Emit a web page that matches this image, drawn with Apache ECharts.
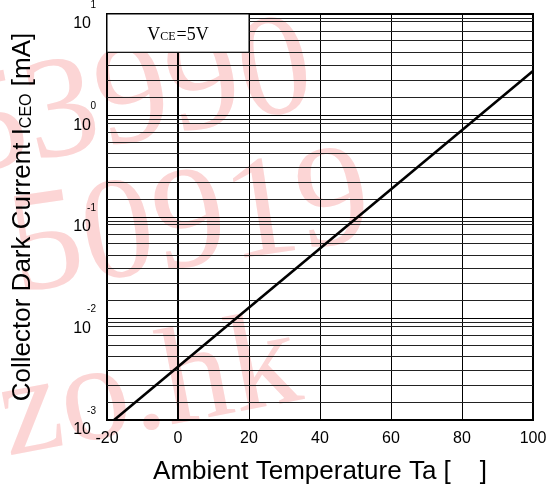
<!DOCTYPE html>
<html>
<head>
    <meta charset="utf-8">
    <title>Collector Dark Current vs Ambient Temperature</title>
    <style>
        html, body { margin: 0; padding: 0; background: #fff; }
        #chart { width: 554px; height: 490px; }
    </style>
</head>
<body>
<div id="chart"></div>
<script src="https://cdn.jsdelivr.net/npm/echarts@6/dist/echarts.min.js"></script>
<script>
    // data
    var tempC = [-18, 100];
    var iceoMA = [0.001, 2.74];
    var xTicks = [-20, 0, 20, 40, 60, 80, 100];
    var decades = [0.001, 0.01, 0.1, 1];
    // minor grid lines of the printed sheet, per decade (not true log spacing)
    var gridMantissas = [1.5, 2.2, 3.1, 4.2, 5.5, 6.8, 8.4, 9.1];
    var condBox = {xFrom: -20, xTo: 20, yFrom: 4.2, yTo: 10};

    var minorLines = [];
    decades.forEach(function (d) {
        gridMantissas.forEach(function (m) {
            minorLines.push({yAxis: d * m});
        });
    });

    var lineData = tempC.map(function (t, i) { return [t, iceoMA[i]]; });

    var wmFill = '#fcd5d5';
    var option = {
        backgroundColor: '#fff',
        animation: false,
        graphic: [
            {type: 'text', z: -1, x: -31, y: 208, rotation: 0.19,
                style: {text: '53990', font: '145px "Liberation Serif"', fill: wmFill, textVerticalAlign: 'bottom'}},
            {type: 'text', z: -1, x: 22, y: 326, rotation: 0.15,
                style: {text: '50919', font: '145px "Liberation Serif"', fill: wmFill, textVerticalAlign: 'bottom'}},
            {type: 'text', z: -1, x: 14, y: 488, rotation: 0.19,
                style: {text: 'zo.hk', font: '138px "Liberation Serif"', fill: wmFill, textVerticalAlign: 'bottom'}}
        ],
        grid: {left: 107, right: 21, top: 9, bottom: 68, show: true, borderColor: '#000', borderWidth: 2, backgroundColor: 'transparent'},
        xAxis: {
            type: 'value', min: -20, max: 100, interval: 20,
            name: 'Ambient Temperature Ta [    ]',
            nameLocation: 'middle', nameGap: 39,
            nameTextStyle: {fontFamily: 'Liberation Sans', fontSize: 26, color: '#000'},
            axisLine: {show: true, onZero: false, lineStyle: {color: '#000', width: 2}},
            axisTick: {show: false},
            axisLabel: {
                margin: 11, color: '#000', fontFamily: 'Liberation Sans', fontSize: 16,
                formatter: function (v) { return xTicks.indexOf(v) >= 0 ? String(v) : ''; }
            },
            splitLine: {show: true, lineStyle: {color: '#000', width: 1}}
        },
        yAxis: {
            type: 'log', logBase: 10, min: 0.001, max: 10,
            name: 'Collector Dark Current I{s|CEO} [mA]',
            nameLocation: 'middle', nameGap: 71, nameRotate: 90,
            nameTextStyle: {
                fontFamily: 'Liberation Sans', fontSize: 26, color: '#000',
                rich: {s: {fontFamily: 'Liberation Sans', fontSize: 16, color: '#000', padding: [8, 0, 0, 0]}}
            },
            axisLine: {show: true, lineStyle: {color: '#000', width: 2}},
            axisTick: {show: false},
            axisLabel: {
                margin: 11, color: '#000',
                formatter: function (v) {
                    var e = Math.round(Math.log(v) / Math.LN10);
                    return '{e|' + e + '}\n{b|10}';
                },
                rich: {
                    e: {fontFamily: 'Liberation Sans', fontSize: 10, lineHeight: 20, align: 'right', color: '#000'},
                    b: {fontFamily: 'Liberation Sans', fontSize: 16, lineHeight: 18, align: 'right', padding: [0, 5, 0, 0], color: '#000'}
                }
            },
            splitLine: {show: true, lineStyle: {color: '#000', width: 1}}
        },
        series: [
            {
                name: 'grid', type: 'line', data: [], silent: true, z: 2,
                markLine: {
                    silent: true, z: 2, symbol: 'none', animation: false, precision: 8,
                    label: {show: false},
                    lineStyle: {color: '#222', width: 1, type: 'solid'},
                    emphasis: {disabled: true},
                    data: minorLines
                }
            },
            {
                name: 'cond', type: 'line', data: [], silent: true, z: 3,
                markArea: {
                    silent: true, z: 3,
                    itemStyle: {color: '#fff', borderColor: '#000', borderWidth: 1},
                    label: {
                        show: true, position: 'inside', offset: [0, 2],
                        formatter: 'V{s|CE}=5V',
                        fontFamily: 'Liberation Serif', fontSize: 18, color: '#000',
                        rich: {s: {fontFamily: 'Liberation Serif', fontSize: 12, color: '#000', padding: [4, 1, 0, 0]}}
                    },
                    emphasis: {disabled: true},
                    data: [[{xAxis: condBox.xFrom, yAxis: condBox.yFrom}, {xAxis: condBox.xTo, yAxis: condBox.yTo}]]
                }
            },
            {
                name: 'ICEO', type: 'line', z: 4,
                data: lineData,
                showSymbol: false,
                lineStyle: {color: '#000', width: 2.6}
            }
        ]
    };

    var chart = echarts.init(document.getElementById('chart'));
    chart.setOption(option);
</script>
</body>
</html>
